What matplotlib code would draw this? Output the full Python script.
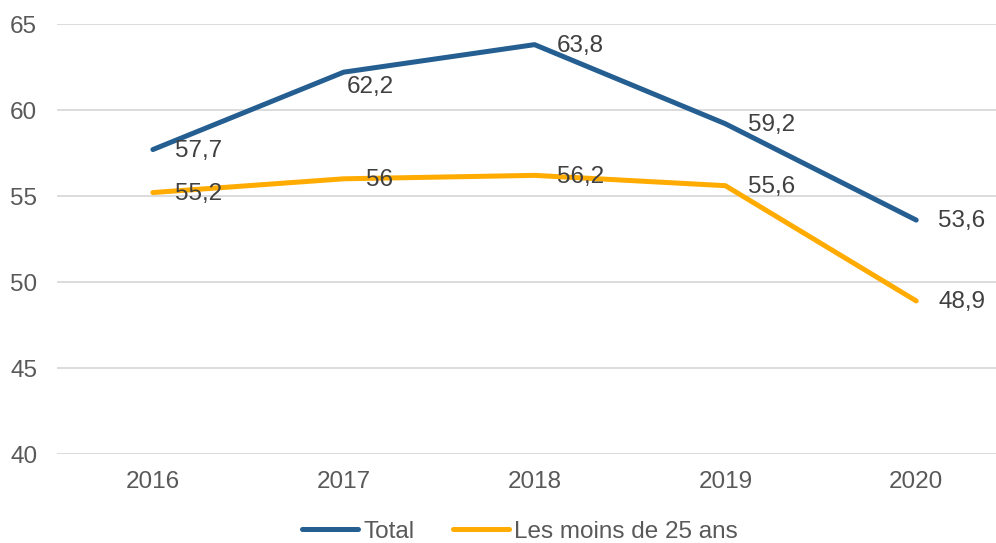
import matplotlib
matplotlib.use("Agg")
import matplotlib.pyplot as plt

years = ["2016", "2017", "2018", "2019", "2020"]
total = [57.7, 62.2, 63.8, 59.2, 53.6]
moins25 = [55.2, 56.0, 56.2, 55.6, 48.9]
total_lbl = ["57,7", "62,2", "63,8", "59,2", "53,6"]
moins25_lbl = ["55,2", "56", "56,2", "55,6", "48,9"]

BLUE = "#255E91"
GOLD = "#FFAB00"
FS = 17.5
plt.rcParams.update({"font.family": ["Liberation Sans", "DejaVu Sans"], "font.size": FS})

fig = plt.figure(figsize=(9.96, 5.43), dpi=100)
ax = fig.add_axes([0.0577, 0.1639, 0.958, 0.7919])
x = list(range(len(years)))
ax.plot(x, total, color=BLUE, lw=3.6, solid_capstyle="round", label="Total", zorder=3)
ax.plot(x, moins25, color=GOLD, lw=3.6, solid_capstyle="round", label="Les moins de 25 ans", zorder=3)

for i, (v, s) in enumerate(zip(total, total_lbl)):
    off = (2, -11) if i == 1 else (16, -1)
    ax.annotate(s, (i, v), xytext=off, textcoords="offset points", ha="left", va="center",
                color="#404040", fontsize=FS)
for i, (v, s) in enumerate(zip(moins25, moins25_lbl)):
    ax.annotate(s, (i, v), xytext=(16, -1), textcoords="offset points", ha="left", va="center",
                color="#404040", fontsize=FS)

ax.set_xlim(-0.5, 4.5)
ax.set_ylim(40, 65)
ax.set_yticks([40, 45, 50, 55, 60, 65])
ax.set_xticks(x)
ax.set_xticklabels(years)
ax.grid(axis="y", color="#D9D9D9", lw=1.3)
ax.set_axisbelow(True)
for sp in ax.spines.values():
    sp.set_visible(False)
ax.tick_params(length=0, colors="#595959", labelsize=FS)
ax.tick_params(axis="x", pad=12)
ax.tick_params(axis="y", pad=34)
for t in ax.get_yticklabels():
    t.set_ha("left")

fig.legend(loc="lower center", bbox_to_anchor=(0.522, -0.04), ncol=2, frameon=False,
           handlelength=2.3, handletextpad=0.2, columnspacing=1.6, fontsize=FS,
           labelcolor="#595959")
fig.savefig("out.png", dpi=100)
